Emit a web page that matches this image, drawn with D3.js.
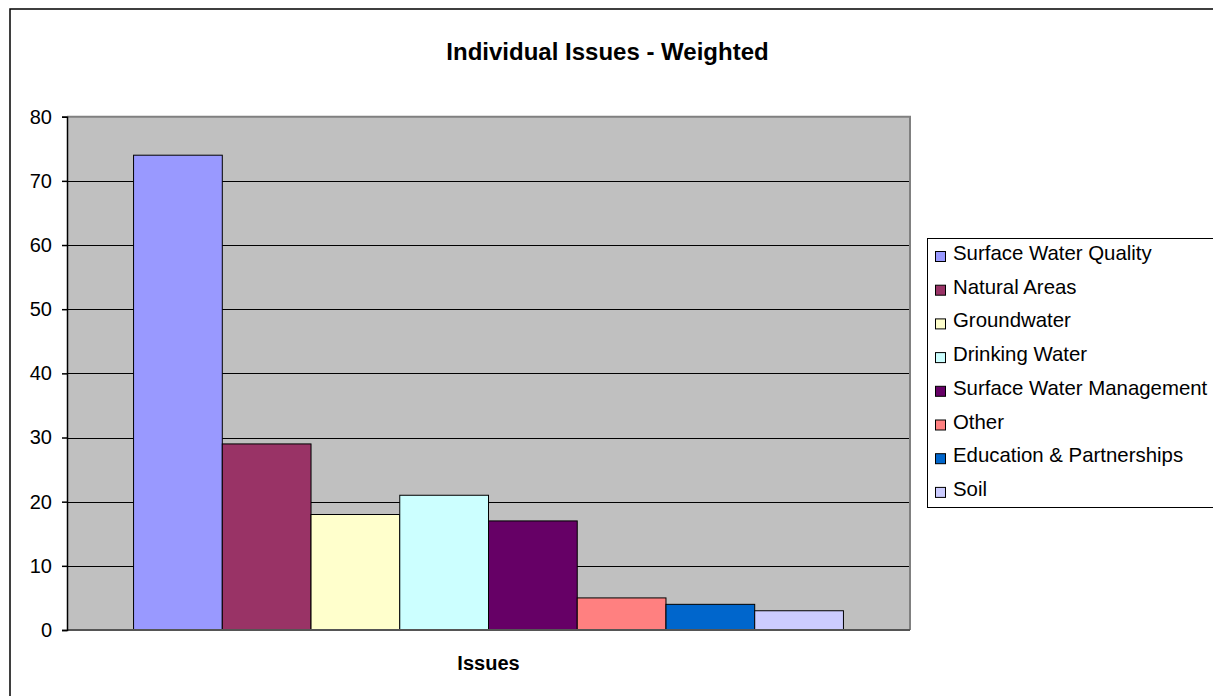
<!DOCTYPE html>
<html>
<head>
<meta charset="utf-8">
<script src="https://cdn.jsdelivr.net/npm/d3@7/dist/d3.min.js"></script>
<style>
  html, body { margin: 0; padding: 0; background: #fff; }
  svg { display: block; font-family: "Liberation Sans", Arial, sans-serif; }
</style>
</head>
<body>
<svg id="chart" width="1213" height="696"></svg>
<script>
// Weighted issue scores, one bar per issue inside the single "Issues" category
const categories = ["Issues"];
const seriesNames = [
  "Surface Water Quality",
  "Natural Areas",
  "Groundwater",
  "Drinking Water",
  "Surface Water Management",
  "Other",
  "Education & Partnerships",
  "Soil"
];
const seriesValues = [74, 29, 18, 21, 17, 5, 4, 3];
const seriesColors = ["#9999FF", "#993366", "#FFFFCC", "#CCFFFF", "#660066", "#FF8080", "#0066CC", "#CCCCFF"];
const yTicks = [0, 10, 20, 30, 40, 50, 60, 70, 80];
const titleText = "Individual Issues - Weighted";

const svg = d3.select("#chart");
const plot = { left: 67, right: 910, top: 116.7, bottom: 630 };

// outer chart frame
svg.append("rect")
  .attr("x", 10).attr("y", 9)
  .attr("width", 1300).attr("height", 800)
  .attr("fill", "#fff").attr("stroke", "#000").attr("stroke-width", 1.5);

// title
svg.append("text")
  .attr("x", 607.5).attr("y", 60)
  .attr("text-anchor", "middle")
  .attr("font-weight", "bold").attr("font-size", 24)
  .text(titleText);

const y = d3.scaleLinear().domain([0, 80]).range([plot.bottom, plot.top]);
const x0 = d3.scaleBand().domain(categories).range([plot.left, plot.right]).padding(0);
const x1 = d3.scaleBand().domain(seriesNames)
  .range([0, x0.bandwidth()]).paddingInner(0).paddingOuter(0.75);

// plot background
svg.append("rect")
  .attr("x", plot.left).attr("y", plot.top)
  .attr("width", plot.right - plot.left).attr("height", plot.bottom - plot.top)
  .attr("fill", "#C0C0C0");

// horizontal gridlines
svg.append("g").selectAll("line")
  .data(yTicks.filter(t => t > 0 && t < 80))
  .join("line")
  .attr("x1", plot.left).attr("x2", plot.right)
  .attr("y1", d => Math.round(y(d)) + 0.5).attr("y2", d => Math.round(y(d)) + 0.5)
  .attr("stroke", "#000").attr("stroke-width", 1);

// plot border (top and right)
svg.append("path")
  .attr("d", `M${plot.left},${plot.top}H${plot.right}V${plot.bottom}`)
  .attr("fill", "none").attr("stroke", "#808080").attr("stroke-width", 2);

// bars
svg.append("g").selectAll("g")
  .data(categories)
  .join("g")
  .attr("transform", d => `translate(${x0(d)},0)`)
  .selectAll("rect")
  .data(() => seriesNames.map((name, i) => ({ name, value: seriesValues[i], color: seriesColors[i] })))
  .join("rect")
  .attr("x", d => x1(d.name))
  .attr("y", d => y(d.value))
  .attr("width", x1.bandwidth())
  .attr("height", d => y(0) - y(d.value))
  .attr("fill", d => d.color)
  .attr("stroke", "#000").attr("stroke-width", 1);

// bottom axis line
svg.append("line")
  .attr("x1", plot.left).attr("x2", plot.right)
  .attr("y1", plot.bottom).attr("y2", plot.bottom)
  .attr("stroke", "#555").attr("stroke-width", 2);

// left value axis
const yAxis = d3.axisLeft(y).tickValues(yTicks).tickSize(5).tickPadding(10).tickFormat(d3.format("d"));
const yg = svg.append("g")
  .attr("transform", `translate(${plot.left},0)`)
  .call(yAxis);
yg.select(".domain").attr("stroke", "#000").attr("stroke-width", 1.5);
yg.selectAll(".tick line").attr("stroke", "#000").attr("stroke-width", 1.5);
yg.selectAll(".tick text")
  .attr("font-family", "Liberation Sans, Arial, sans-serif")
  .attr("font-size", 20).attr("fill", "#000");

// category axis title
svg.append("text")
  .attr("x", (plot.left + plot.right) / 2).attr("y", 670)
  .attr("text-anchor", "middle")
  .attr("font-weight", "bold").attr("font-size", 20)
  .text(categories[0]);

// legend
const legend = svg.append("g");
legend.append("rect")
  .attr("x", 927.5).attr("y", 238.5)
  .attr("width", 400).attr("height", 269)
  .attr("fill", "#fff").attr("stroke", "#000").attr("stroke-width", 1);

const rowStep = 33.7;
const items = legend.selectAll("g.item")
  .data(seriesNames.map((name, i) => ({ name, color: seriesColors[i] })))
  .join("g").attr("class", "item")
  .attr("transform", (d, i) => `translate(0,${260 + i * rowStep})`);
items.append("rect")
  .attr("x", 935.5).attr("y", -8.5)
  .attr("width", 10).attr("height", 10)
  .attr("fill", d => d.color).attr("stroke", "#000").attr("stroke-width", 1);
items.append("text")
  .attr("x", 953).attr("y", 0)
  .attr("font-size", 20.4)
  .text(d => d.name);
</script>
</body>
</html>
